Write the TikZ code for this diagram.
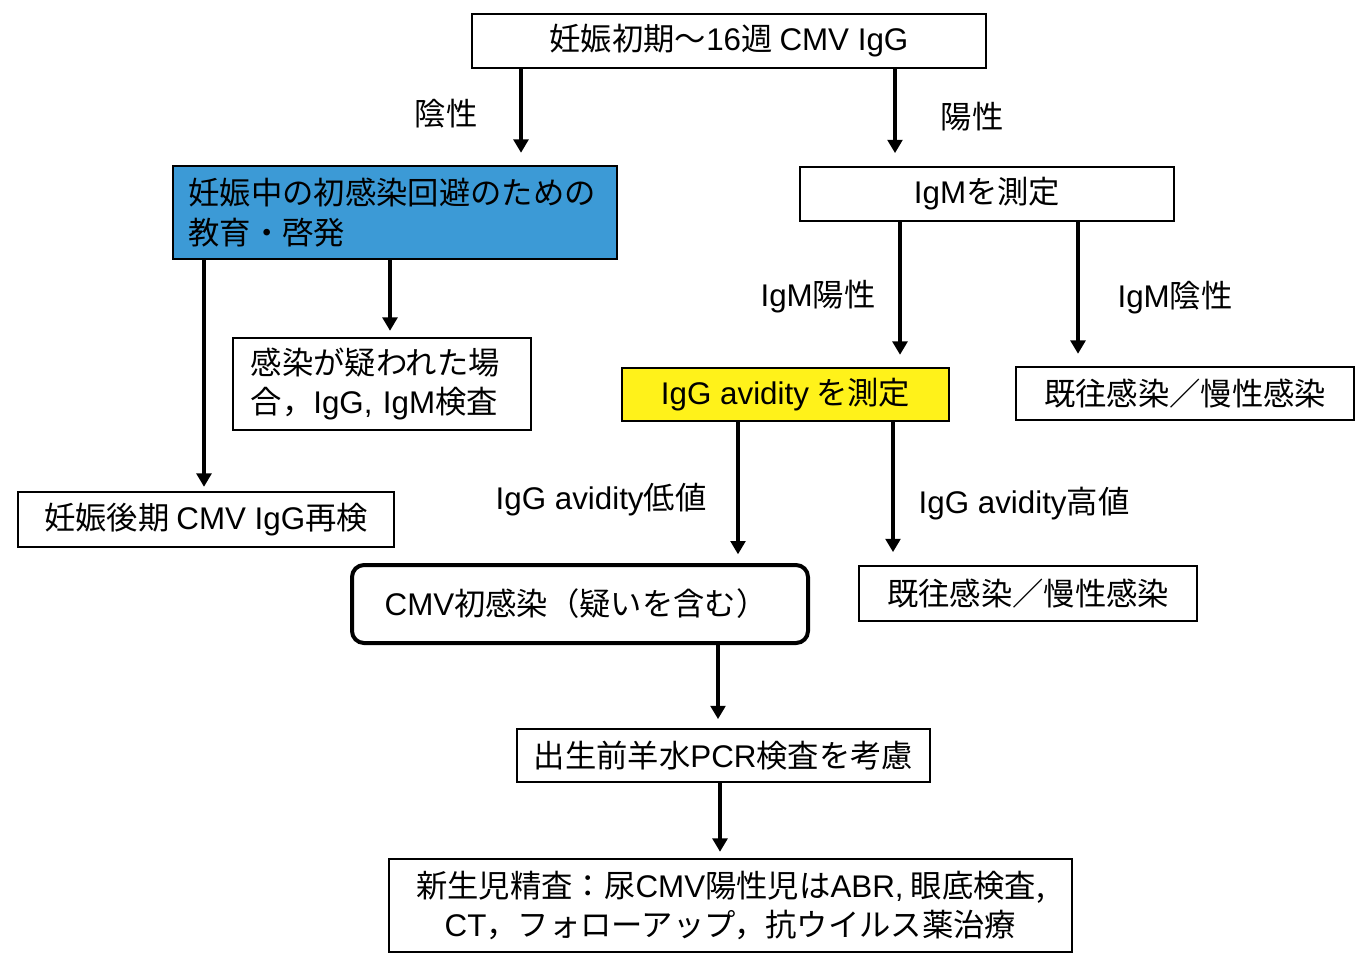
\documentclass[tikz,border=0pt]{standalone}
\usepackage{fontspec}
\setmainfont{Noto Sans CJK JP}
\newfontfamily\lat{Liberation Sans}
\usetikzlibrary{arrows.meta}
\definecolor{boxblue}{HTML}{3C9AD6}
\definecolor{boxyellow}{HTML}{FFF21A}
\begin{document}
\begin{tikzpicture}[x=0.75pt,y=-0.75pt,
  every node/.style={font=\fontsize{23.5pt}{29.5pt}\selectfont, inner sep=0pt},
  box/.style={draw, line width=1.8pt},
  lbl/.style={},
  arr/.style={line width=3.4pt, -{Triangle[width=11pt,length=10pt]}}]
\useasboundingbox (0,0) rectangle (1359,961);
\fill[white] (0,0) rectangle (1359,961);
% boxes
\node[box, minimum width=385.5pt, minimum height=40.5pt] (top) at (729,41) {妊娠初期〜{\lat 16}週 {\lat CMV IgG}};
\node[box, fill=boxblue, minimum width=333pt, minimum height=69.75pt, text width=310pt, align=left] (edu) at (395,212.5) {妊娠中の初感染回避のための\\教育・啓発};
\node[box, minimum width=280.5pt, minimum height=40.5pt] (igm) at (987,194) {{\lat IgM}を測定};
\node[box, minimum width=223.5pt, minimum height=69pt, text width=197pt, align=left] (sus) at (382,384) {感染が疑われた場\\合，{\lat IgG, IgM}検査};
\node[box, fill=boxyellow, minimum width=245.25pt, minimum height=39.75pt] (avid) at (785.5,394.5) {{\lat IgG avidity} を測定};
\node[box, minimum width=253.5pt, minimum height=39.75pt] (past1) at (1185,393.5) {既往感染／慢性感染};
\node[box, minimum width=282pt, minimum height=41.25pt] (late) at (206,519.5) {妊娠後期 {\lat CMV IgG}再検};
\node[draw, line width=3pt, rounded corners=9pt, minimum width=342pt, minimum height=58.5pt, text width=293pt, align=left] (prim) at (580,604) {{\lat CMV}初感染（疑いを含む）};
\node[box, minimum width=253.5pt, minimum height=41.25pt] (past2) at (1028,593.5) {既往感染／慢性感染};
\node[box, minimum width=309.75pt, minimum height=39.75pt] (pcr) at (723.5,755.5) {出生前羊水{\lat PCR}検査を考慮};
\node[box, minimum width=512.25pt, minimum height=69.75pt, align=center] (neo) at (730.5,905.5) {新生児精査：尿{\lat CMV}陽性児は{\lat ABR,} 眼底検査,\\{\lat CT}，フォローアップ，抗ウイルス薬治療};
% columns
\coordinate (x1) at (521,0);
\coordinate (x2) at (895,0);
\coordinate (x3) at (204,0);
\coordinate (x4) at (390,0);
\coordinate (x5) at (900,0);
\coordinate (x6) at (1078,0);
\coordinate (x7) at (738,0);
\coordinate (x8) at (893,0);
\coordinate (x9) at (718,0);
\coordinate (x10) at (720,0);
% arrows
\draw[arr, shorten >=9pt] (top.south -| x1) -- (edu.north -| x1);
\draw[arr, shorten >=9.5pt] (top.south -| x2) -- (igm.north -| x2);
\draw[arr, shorten >=3pt] (edu.south -| x3) -- (late.north -| x3);
\draw[arr, shorten >=4.5pt] (edu.south -| x4) -- (sus.north -| x4);
\draw[arr, shorten >=9pt] (igm.south -| x5) -- (avid.north -| x5);
\draw[arr, shorten >=9pt] (igm.south -| x6) -- (past1.north -| x6);
\draw[arr, shorten >=6.5pt] (avid.south -| x7) -- (prim.north -| x7);
\draw[arr, shorten >=9.5pt] (avid.south -| x8) -- (past2.north -| x8);
\draw[arr, shorten >=6.5pt] (prim.south -| x9) -- (pcr.north -| x9);
\draw[arr, shorten >=4.5pt] (pcr.south -| x10) -- (neo.north -| x10);
% labels
\node[lbl] (l1) at (446,114) {陰性};
\node[lbl] (l2) at (972,117) {陽性};
\node[lbl] (l3) at (818,297) {{\lat IgM}陽性};
\node[lbl] (l4) at (1175,298) {{\lat IgM}陰性};
\node[lbl] (l5) at (601,500) {{\lat IgG avidity}低値};
\node[lbl] (l6) at (1024,504) {{\lat IgG avidity}高値};
\end{tikzpicture}
\end{document}
